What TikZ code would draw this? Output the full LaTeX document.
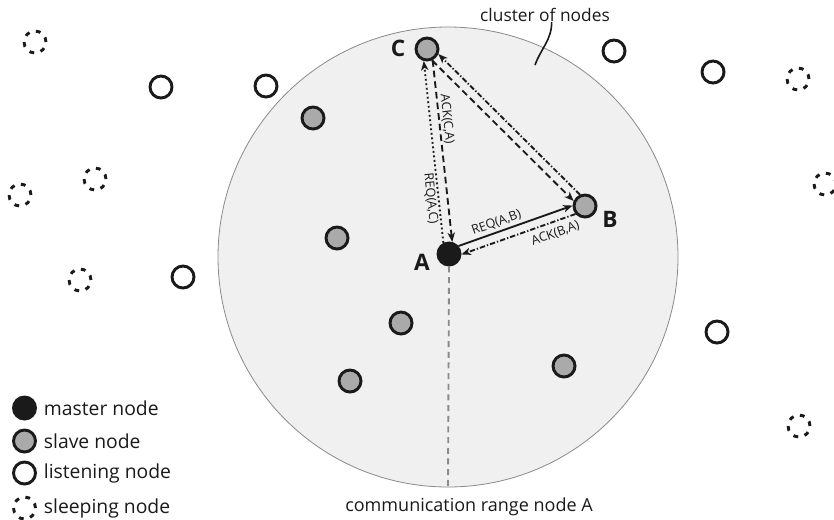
\documentclass[tikz,border=0pt]{standalone}
\usepackage{fontspec}
\setmainfont{Open Sans}
\usetikzlibrary{positioning,calc,arrows.meta}
\definecolor{ink}{HTML}{1A1A1A}
\definecolor{slavegray}{HTML}{AAAAAA}
\definecolor{rangefill}{HTML}{F0F0F0}
\definecolor{rangeline}{HTML}{8A8A8A}
\tikzset{
  wsn/.style={circle, draw=ink, line width=2.2pt, minimum size=16.5pt, inner sep=0pt},
  master/.style={wsn, fill=ink},
  slave/.style={wsn, fill=slavegray},
  listening/.style={wsn, fill=white},
  sleeping/.style={wsn, dash pattern=on 3.6pt off 5pt},
  letter/.style={font=\fontsize{17}{17}\selectfont\bfseries, text=ink},
  msg/.style={font=\fontsize{9.5}{10}\selectfont, text=ink, sloped, inner sep=1pt},
  link/.style={->, line width=1.4pt, draw=ink},
  dashlink/.style={link, dash pattern=on 5pt off 3pt},
  dotdashlink/.style={link, dash pattern=on 4pt off 1.5pt on 1pt off 1.5pt},
  caption/.style={font=\fontsize{13}{15}\selectfont, text=ink, inner sep=0pt},
  legend/.style={font=\fontsize{14.5}{16}\selectfont, text=ink, inner sep=0pt},
}
\begin{document}
\begin{tikzpicture}[>={Stealth[length=7pt,width=5.5pt,inset=2pt]}, x=0.75pt, y=-0.75pt]
\useasboundingbox (0,0) rectangle (834,519);
\node[circle, draw=rangeline, fill=rangefill, line width=0.6pt, minimum size=345pt, inner sep=0pt] (range) at (448,257) {};

% nodes of the network
\foreach \pos [count=\i] in {(313,118),(337,238),(401,323),(350,381),(564,366)}
  \node[slave] (s\i) at \pos {};
\foreach \pos [count=\i] in {(161,87),(266,86),(183,277),(614,51),(713,72),(717,332)}
  \node[listening] (l\i) at \pos {};
\foreach \pos [count=\i] in {(35,42),(95,179),(20,195),(80,280),(798,79),(825,184),(799,426)}
  \node[sleeping] (z\i) at \pos {};

\node[master] (A) at (449,254) {};
\node[slave] (B) at (585,206) {};
\node[slave] (C) at (427,49) {};
\node[letter] (labA) at (422,262) {A};
\node[letter] (labB) at (610,219) {B};
\node[letter] (labC) at (398,48) {C};

\node[caption, font=\fontsize{13.5}{15}\selectfont] (rangelabel) at (469,507) {communication range node A};
\draw[rangeline, line width=1.4pt, dash pattern=on 4.5pt off 3.5pt] (A.south) -- (range.south);

\node[caption] (cluster) at (545,15) {cluster of nodes};
\coordinate (ptr) at (535,65);
\draw[ink, line width=1.2pt] ([xshift=5pt]cluster.south) to[out=-90,in=70] (ptr);

% messages
\draw[link] (A.40) -- node[msg, above=1pt, pos=0.36] {REQ(A,B)} (B.178);
\draw[dotdashlink] (B.220) -- node[msg, below=3pt, pos=0.21] {ACK(B,A)} (A.358);
\draw[link, dotted] (A.117) -- node[msg, below, pos=0.25] {REQ(A,C)} (C.255);
\draw[dashlink] (C.297) -- node[msg, above, pos=0.33] {ACK(C,A)} (A.75);
\draw[dashlink] (C.294) -- (B.156);
\draw[dotdashlink] (B.114) -- (C.336);

% legend
\foreach \kind/\txt/\y in {master/master node/408, slave/slave node/441, listening/listening node/473, sleeping/sleeping node/508}{
  \node[\kind] (leg-\kind) at (24.5,\y) {};
  \node[legend, right=5pt of leg-\kind] {\txt};
}
\end{tikzpicture}
\end{document}
